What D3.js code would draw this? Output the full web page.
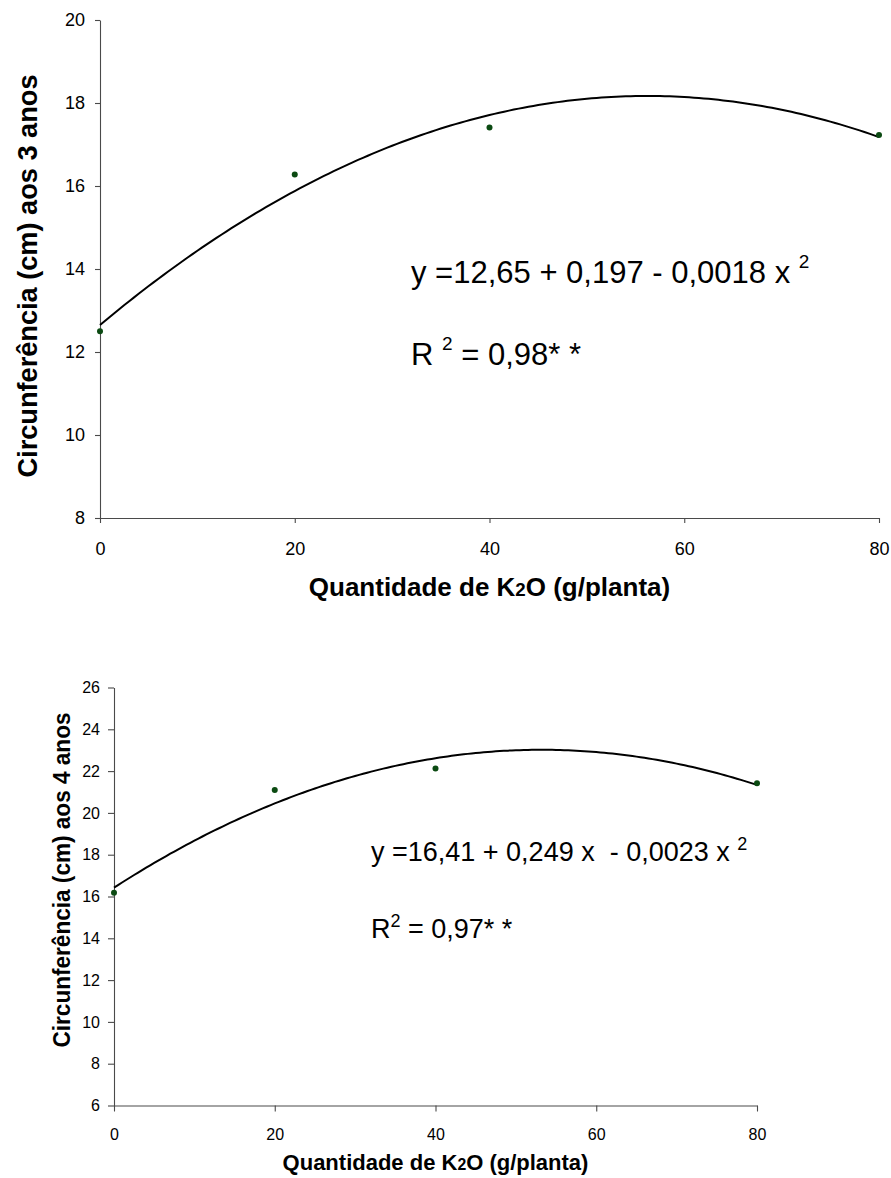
<!DOCTYPE html>
<html>
<head>
<meta charset="utf-8">
<script src="https://cdn.jsdelivr.net/npm/d3@7"></script>
<style>
  html, body { margin: 0; padding: 0; background: #fff; }
  svg { display: block; font-family: "Liberation Sans", Arial, sans-serif; }
  text { white-space: pre; }
</style>
</head>
<body>
<svg id="chart" width="891" height="1178" xml:space="preserve"></svg>
<script>
// ---------- data ----------
const doses = [0, 20, 40, 80];                  // g K2O / planta
const circ3anos = [12.5, 16.28, 17.41, 17.23];  // cm, aos 3 anos
const circ4anos = [16.18, 21.1, 22.13, 21.42];  // cm, aos 4 anos
const xTicks = [0, 20, 40, 60, 80];
const yTicks3 = [8, 10, 12, 14, 16, 18, 20];
const yTicks4 = [6, 8, 10, 12, 14, 16, 18, 20, 22, 24, 26];
const xTitleParts = ["Quantidade de K", "2", "O (g/planta)"];
const yTitle3 = "Circunferência (cm) aos 3 anos";
const yTitle4 = "Circunferência (cm) aos 4 anos";
const eq3 = ["y =12,65 + 0,197 - 0,0018 x ", "2"];
const r3 = ["R ", "2", " = 0,98* *"];
const eq4 = ["y =16,41 + 0,249 x  - 0,0023 x ", "2"];
const r4 = ["R", "2", " = 0,97* *"];

// quadratic least squares (Excel polynomial trendline, order 2)
function quadFit(xs, ys) {
  let S = [0,0,0,0,0], T = [0,0,0];
  xs.forEach((x, i) => {
    for (let k = 0; k < 5; k++) S[k] += Math.pow(x, k);
    for (let k = 0; k < 3; k++) T[k] += Math.pow(x, k) * ys[i];
  });
  const A = [[S[0],S[1],S[2],T[0]],[S[1],S[2],S[3],T[1]],[S[2],S[3],S[4],T[2]]];
  for (let c = 0; c < 3; c++) {
    for (let r = c + 1; r < 3; r++) {
      const f = A[r][c] / A[c][c];
      for (let k = c; k < 4; k++) A[r][k] -= f * A[c][k];
    }
  }
  const sol = [0,0,0];
  for (let r = 2; r >= 0; r--) {
    let s = A[r][3];
    for (let k = r + 1; k < 3; k++) s -= A[r][k] * sol[k];
    sol[r] = s / A[r][r];
  }
  return x => sol[0] + sol[1] * x + sol[2] * x * x;
}

const svg = d3.select("#chart");

function drawPanel(cfg) {
  const x = d3.scaleLinear().domain([0, 80]).range([cfg.x0, cfg.x1]);
  const y = d3.scaleLinear().domain(cfg.yDomain).range([cfg.yb, cfg.yt]);
  const g = svg.append("g");

  const xAxis = g.append("g").attr("transform", `translate(0,${cfg.yb})`)
    .call(d3.axisBottom(x).tickValues(xTicks).tickSize(cfg.tick).tickPadding(cfg.xPad).tickSizeOuter(0));
  const yAxis = g.append("g").attr("transform", `translate(${cfg.x0},0)`)
    .call(d3.axisLeft(y).tickValues(cfg.yTicks).tickSize(cfg.tick).tickPadding(cfg.yPad).tickSizeOuter(0));
  [xAxis, yAxis].forEach(a => {
    a.attr("font-size", cfg.tickFont).attr("font-family", "'Liberation Sans', Arial, sans-serif");
    a.selectAll("path,line").attr("stroke", "#4a4a4a").attr("stroke-width", 1.1);
    a.selectAll("text").attr("fill", "#000").style("font-size", cfg.tickFont + "px");
  });

  // trendline
  const f = quadFit(doses, cfg.values);
  const xs = d3.range(0, 80.01, 0.5);
  g.append("path")
    .attr("d", d3.line().x(d => x(d)).y(d => y(f(d)))(xs))
    .attr("fill", "none").attr("stroke", "#000").attr("stroke-width", 2);

  // points
  g.selectAll("circle.pt").data(doses).join("circle")
    .attr("class", "pt")
    .attr("cx", d => x(d)).attr("cy", (d, i) => y(cfg.values[i]))
    .attr("r", 3).attr("fill", "#0b4a12");

  // axis titles
  const xt = g.append("text")
    .attr("x", (cfg.x0 + cfg.x1) / 2).attr("y", cfg.xTitleY)
    .attr("text-anchor", "middle").attr("font-weight", "bold")
    .attr("font-size", cfg.xTitleFont);
  xt.append("tspan").text(xTitleParts[0]);
  xt.append("tspan").attr("font-size", cfg.xTitleFont * 0.72).text(xTitleParts[1]);
  xt.append("tspan").text(xTitleParts[2]);

  g.append("text")
    .attr("transform", `translate(${cfg.yTitleX},${cfg.yTitleCY}) rotate(-90)`)
    .attr("text-anchor", "middle").attr("font-weight", "bold")
    .attr("font-size", cfg.yTitleFont)
    .attr("textLength", cfg.yTitleLen).attr("lengthAdjust", "spacingAndGlyphs")
    .text(cfg.yTitle);

  // equation
  const e = g.append("text").attr("x", cfg.eqX).attr("y", cfg.eqY).attr("font-size", cfg.eqFont);
  e.append("tspan").text(cfg.eq[0]);
  e.append("tspan").attr("font-size", cfg.supFont).attr("dy", -cfg.supRaise).text(cfg.eq[1]);

  const r = g.append("text").attr("x", cfg.eqX).attr("y", cfg.rY).attr("font-size", cfg.eqFont);
  r.append("tspan").text(cfg.r[0]);
  r.append("tspan").attr("font-size", cfg.supFont).attr("dy", -cfg.supRaise).text(cfg.r[1]);
  r.append("tspan").attr("dy", cfg.supRaise).text(cfg.r[2]);
}

drawPanel({
  x0: 100, x1: 879, yb: 518, yt: 20, yDomain: [8, 20], yTicks: yTicks3,
  values: circ3anos, tick: 5, xPad: 19, yPad: 10, tickFont: 18,
  xTitleY: 596, xTitleFont: 26,
  yTitle: yTitle3, yTitleX: 37, yTitleCY: 276, yTitleFont: 27, yTitleLen: 403,
  eq: eq3, r: r3, eqX: 411, eqY: 283, rY: 365, eqFont: 31, supFont: 19, supRaise: 15
});

drawPanel({
  x0: 114, x1: 757, yb: 1105.5, yt: 687.5, yDomain: [6, 26], yTicks: yTicks4,
  values: circ4anos, tick: 6, xPad: 17, yPad: 8, tickFont: 16,
  xTitleY: 1170, xTitleFont: 22,
  yTitle: yTitle4, yTitleX: 70, yTitleCY: 880, yTitleFont: 24, yTitleLen: 335,
  eq: eq4, r: r4, eqX: 371, eqY: 861, rY: 938, eqFont: 27, supFont: 18, supRaise: 11
});
</script>
</body>
</html>
